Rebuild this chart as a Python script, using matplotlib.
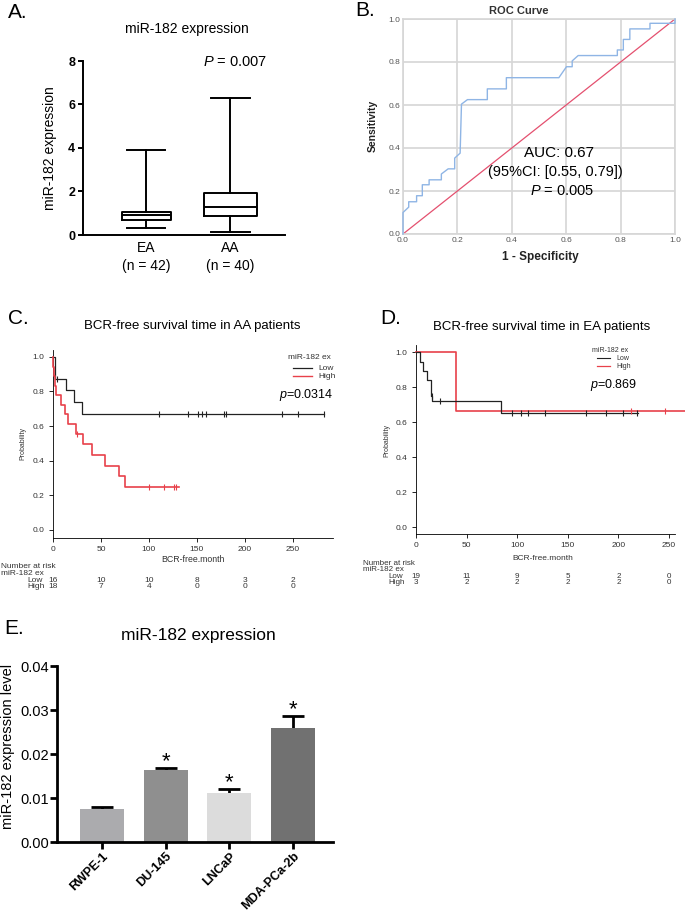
import numpy as np
import matplotlib
matplotlib.use("Agg")
import matplotlib.pyplot as plt
from matplotlib.lines import Line2D
from matplotlib.transforms import blended_transform_factory, ScaledTranslation

plt.rcParams['font.family'] = ['Liberation Sans', 'DejaVu Sans']
plt.rcParams['mathtext.fontset'] = 'custom'
plt.rcParams['mathtext.rm'] = 'Liberation Sans'
plt.rcParams['mathtext.it'] = 'Liberation Sans:italic'

# ---- A. box plot (EA vs AA)
box_groups = ["EA\n(n = 42)", "AA\n(n = 40)"]
box_whislo = [0.3, 0.15]
box_q1 = [0.7, 0.88]
box_med = [0.93, 1.28]
box_q3 = [1.08, 1.92]
box_whishi = [3.9, 6.3]

# ---- B. ROC curve
roc_fpr = [0, 0, 0.021, 0.021, 0.05, 0.05, 0.071, 0.071, 0.096, 0.096,
           0.141, 0.141, 0.166, 0.19, 0.19, 0.21, 0.215, 0.237, 0.31, 0.31,
           0.38, 0.38, 0.573, 0.601, 0.622, 0.622, 0.644, 0.788, 0.788, 0.81,
           0.81, 0.834, 0.834, 0.908, 0.908, 1.0, 1.0]
roc_tpr = [0, 0.1, 0.125, 0.15, 0.15, 0.178, 0.178, 0.229, 0.229, 0.252,
           0.252, 0.279, 0.303, 0.303, 0.353, 0.376, 0.604, 0.625, 0.625, 0.675,
           0.675, 0.727, 0.727, 0.778, 0.778, 0.805, 0.83, 0.83, 0.856, 0.856,
           0.905, 0.905, 0.954, 0.954, 0.98, 0.98, 1.0]

# ---- C. KM in AA patients
c_low_t = [0, 1.7, 13.9, 21.5, 30.6]
c_low_s = [1.0, 0.872, 0.808, 0.74, 0.672]
c_low_end = 282.3
c_low_cens = [4.2, 110.4, 141.3, 150.7, 155.2, 159.7, 178.8, 180.6, 238.9, 255.2, 282.3]
c_high_t = [0, 0.5, 1.0, 1.7, 3.6, 8.8, 12.9, 15.7, 24.3, 31.0, 41.0, 53.8, 68.4, 75.3]
c_high_s = [1.0, 0.944, 0.889, 0.833, 0.778, 0.722, 0.667, 0.611, 0.556, 0.494,
            0.432, 0.37, 0.309, 0.247]
c_high_end = 131
c_high_cens = [25.4, 100, 115.3, 126, 127.8]
c_risk_low = [16, 10, 10, 8, 3, 2]
c_risk_high = [18, 7, 4, 0, 0, 0]

# ---- D. KM in EA patients
d_low_t = [0, 4.0, 7.2, 11.2, 14.5, 15.3, 16.1, 83.7]
d_low_s = [1.0, 0.947, 0.895, 0.842, 0.789, 0.75, 0.72, 0.655]
d_low_end = 219.7
d_low_cens = [15.6, 23.7, 94.5, 103.8, 110.3, 127.5, 168, 187.7, 204.2, 218]
d_high_t = [0, 39.5]
d_high_s = [1.0, 0.667]
d_high_end = 266
d_high_cens = [213, 246]
d_risk_low = [19, 11, 9, 5, 2, 0]
d_risk_high = [3, 2, 2, 2, 2, 0]
risk_times = [0, 50, 100, 150, 200, 250]

# ---- E. cell lines
cell_lines = ["RWPE-1", "DU-145", "LNCaP", "MDA-PCa-2b"]
cell_expr = [0.0074, 0.0163, 0.0112, 0.0260]
cell_err = [0.0005, 0.0005, 0.0008, 0.0027]
cell_star = [False, True, True, True]
cell_colors = ['#ababae', '#8f8f8f', '#dcdcdc', '#717171']

W, H = 685, 913
fig = plt.figure(figsize=(W / 100, H / 100), dpi=100)


def add_ax(l, t, r, b):
    return fig.add_axes([l / W, 1 - b / H, (r - l) / W, (b - t) / H])


def ftext(x, y, s, **kw):
    kw.setdefault('ha', 'center')
    kw.setdefault('va', 'center')
    fig.text(x / W, 1 - y / H, s, **kw)


def fline(x0, x1, y, color, lw):
    fig.add_artist(Line2D([x0 / W, x1 / W], [1 - y / H, 1 - y / H], color=color,
                          lw=lw, transform=fig.transFigure))


def step_level(times, surv, t):
    i = np.searchsorted(times, t, side='right') - 1
    return surv[i]


def km(ax, times, surv, end, cens, color, lw, ms):
    t = list(times) + [end]
    s = list(surv) + [surv[-1]]
    ax.step(t, s, where='post', color=color, lw=lw, clip_on=False, zorder=3)
    ys = [step_level(times, surv, c) for c in cens]
    ax.plot(cens, ys, ls='none', marker='|', ms=ms, mew=0.8, color=color,
            clip_on=False, zorder=4)


def km_axes(ax, xmax, ylo, yhi):
    ax.set_xlim(0, xmax)
    ax.set_ylim(ylo, yhi)
    ax.set_xticks(risk_times)
    ax.set_yticks(np.arange(0, 1.01, 0.2))
    ax.set_yticklabels(["%.1f" % v for v in np.arange(0, 1.01, 0.2)])
    for s in ['top', 'right']:
        ax.spines[s].set_visible(False)
    for s in ['left', 'bottom']:
        ax.spines[s].set_linewidth(0.6)
    ax.tick_params(length=3, width=0.6, labelsize=6, labelcolor='#333', pad=3)


def risk_table(ax, ypix, low, high, fs):
    tr = blended_transform_factory(ax.transData, fig.transFigure)
    for x, a, b in zip(risk_times, low, high):
        ax.text(x, 1 - ypix[0] / H, str(a), transform=tr, ha='center', va='center',
                fontsize=fs, color='#333', clip_on=False)
        ax.text(x, 1 - ypix[1] / H, str(b), transform=tr, ha='center', va='center',
                fontsize=fs, color='#333', clip_on=False)


# ================= A =================
axA = add_ax(83, 61, 285, 235)
stats = []
for i in range(2):
    stats.append(dict(whislo=box_whislo[i], q1=box_q1[i], med=box_med[i],
                      q3=box_q3[i], whishi=box_whishi[i], fliers=[]))
lp = dict(lw=1.4, color='black')
axA.bxp(stats, positions=[1, 2], widths=[0.58, 0.63], capwidths=0.46,
        showfliers=False, boxprops=lp, medianprops=lp, whiskerprops=lp, capprops=lp)
axA.set_xlim(0.25, 2.65)
axA.set_ylim(0, 8)
axA.set_yticks([0, 2, 4, 6, 8])
axA.set_xticks([1, 2])
axA.set_xticklabels(box_groups, linespacing=1.4)
for s in ['top', 'right']:
    axA.spines[s].set_visible(False)
for s in ['left', 'bottom']:
    axA.spines[s].set_linewidth(1.4)
axA.tick_params(axis='y', length=3.5, width=1.4, labelsize=9, pad=2)
axA.tick_params(axis='x', length=0, labelsize=10, pad=4)
for lab in axA.get_yticklabels():
    lab.set_fontweight('bold')
ftext(8, 13, "A.", fontsize=15, ha='left')
ftext(187, 29, "miR-182 expression", fontsize=10)
ftext(50, 148, "miR-182 expression", fontsize=10, rotation=90)
ftext(235, 62, r"$\it{P}$ = 0.007", fontsize=10.5)

# ================= B =================
axB = add_ax(403, 19, 675, 234)
axB.plot(roc_fpr, roc_tpr, color='#8fb5e5', lw=1.0, clip_on=False, zorder=3)
axB.plot([0, 1], [0, 1], color='#e4506f', lw=0.9, zorder=2)
axB.set_xlim(0, 1)
axB.set_ylim(0, 1)
rt = np.arange(0, 1.01, 0.2)
axB.set_xticks(rt)
axB.set_yticks(rt)
axB.set_xticklabels(["%.1f" % v for v in rt])
axB.set_yticklabels(["%.1f" % v for v in rt])
axB.grid(True, color='#d6d6d6', lw=1.2)
axB.set_axisbelow(True)
for s in axB.spines.values():
    s.set_color('#d6d6d6')
    s.set_linewidth(1.2)
axB.tick_params(length=0, labelsize=6, labelcolor='#555', pad=2)
ftext(355, 10, "B.", fontsize=15, ha='left')
ftext(519, 11, "ROC Curve", fontsize=8, fontweight='bold', color='#333')
ftext(540, 257, "1 - Specificity", fontsize=8.5, fontweight='bold', color='#222')
ftext(373, 126, "Sensitivity", fontsize=7.5, fontweight='bold', rotation=90, color='#222')
ftext(559, 153, "AUC: 0.67", fontsize=11)
ftext(555, 172, "(95%CI: [0.55, 0.79])", fontsize=10.5)
ftext(562, 191, r"$\it{P}$ = 0.005", fontsize=10.5)

# ================= C =================
axC = add_ax(53, 350, 333, 538)
km_axes(axC, 292, -0.048, 1.04)
km(axC, c_low_t, c_low_s, c_low_end, c_low_cens, '#222222', 0.9, 5)
km(axC, c_high_t, c_high_s, c_high_end, c_high_cens, '#e8414a', 1.2, 5)
ftext(8, 318, "C.", fontsize=15, ha='left')
ftext(192, 326, "BCR-free survival time in AA patients", fontsize=9.5)
ftext(193, 560, "BCR-free.month", fontsize=6.3, color='#333')
ftext(23, 443, "Probability", fontsize=5, rotation=90, color='#333')
ftext(288, 357, "miR-182 ex", fontsize=6, ha='left', color='#333')
fline(293, 312, 368, '#222222', 0.9)
fline(293, 312, 376, '#e8414a', 1.0)
ftext(318, 368, "Low", fontsize=6, ha='left', color='#333')
ftext(318, 376, "High", fontsize=6, ha='left', color='#333')
ftext(333, 395, r"$\it{p}$=0.0314", fontsize=9, ha='right')
ftext(1, 566, "Number at risk", fontsize=6, ha='left', color='#333')
ftext(1, 573, "miR-182 ex", fontsize=6, ha='left', color='#333')
ftext(27, 581, "Low", fontsize=6, ha='left', color='#333')
ftext(27, 587, "High", fontsize=6, ha='left', color='#333')
risk_table(axC, (581, 587), c_risk_low, c_risk_high, 6)

# ================= D =================
axD = add_ax(416, 345, 675, 534)
km_axes(axD, 256, -0.038, 1.042)
km(axD, d_high_t, d_high_s, d_high_end, d_high_cens, '#e8414a', 1.2, 5)
km(axD, d_low_t, d_low_s, d_low_end, d_low_cens, '#222222', 0.9, 5)
ftext(380, 318, "D.", fontsize=15, ha='left')
ftext(542, 327, "BCR-free survival time in EA patients", fontsize=9.5)
ftext(543, 558, "BCR-free.month", fontsize=6, color='#333')
ftext(387, 440, "Probability", fontsize=5, rotation=90, color='#333')
ftext(592, 350, "miR-182 ex", fontsize=5, ha='left', color='#333')
fline(597, 610, 358, '#222222', 0.8)
fline(597, 610, 366, '#e8414a', 0.9)
ftext(616, 358, "Low", fontsize=5, ha='left', color='#333')
ftext(616, 366, "High", fontsize=5, ha='left', color='#333')
ftext(590, 385, r"$\it{p}$=0.869", fontsize=9, ha='left')
ftext(363, 563, "Number at risk", fontsize=5.8, ha='left', color='#333')
ftext(363, 569, "miR-182 ex", fontsize=5.8, ha='left', color='#333')
ftext(388, 576, "Low", fontsize=5.8, ha='left', color='#333')
ftext(388, 582, "High", fontsize=5.8, ha='left', color='#333')
risk_table(axD, (576, 582), d_risk_low, d_risk_high, 5.8)

# ================= E =================
axE = add_ax(57, 666, 333, 842)
xpos = np.arange(len(cell_lines))
axE.bar(xpos, cell_expr, width=0.69, color=cell_colors, zorder=2)
axE.errorbar(xpos, cell_expr, yerr=cell_err, fmt='none',
             ecolor='black', elinewidth=2, capsize=8, capthick=2, zorder=1)
for x, v, e, st in zip(xpos, cell_expr, cell_err, cell_star):
    if st:
        axE.annotate("*", (x, v + e), xytext=(0, 0.5), textcoords='offset points',
                     ha='center', va='baseline', fontsize=16)
axE.set_xlim(-0.71, 3.63)
axE.set_ylim(0, 0.04)
axE.set_yticks([0, 0.01, 0.02, 0.03, 0.04])
axE.set_yticklabels(["0.00", "0.01", "0.02", "0.03", "0.04"])
axE.set_xticks(xpos)
axE.set_xticklabels(cell_lines, rotation=45, ha='right', rotation_mode='anchor',
                    fontweight='bold', fontsize=9)
shift = ScaledTranslation(4 / 100, 0, fig.dpi_scale_trans)
for lab in axE.get_xticklabels():
    lab.set_transform(lab.get_transform() + shift)
for s in ['top', 'right']:
    axE.spines[s].set_visible(False)
for s in ['left', 'bottom']:
    axE.spines[s].set_linewidth(2)
axE.tick_params(axis='y', length=5, width=2, labelsize=10.5, pad=1)
axE.tick_params(axis='x', length=5, width=2, pad=1)
ftext(4, 629, "E.", fontsize=15, ha='left')
ftext(198, 635, "miR-182 expression", fontsize=12.5)
ftext(8, 746, "miR-182 expression level", fontsize=10.5, rotation=90)

fig.savefig("out.png", dpi=100)
